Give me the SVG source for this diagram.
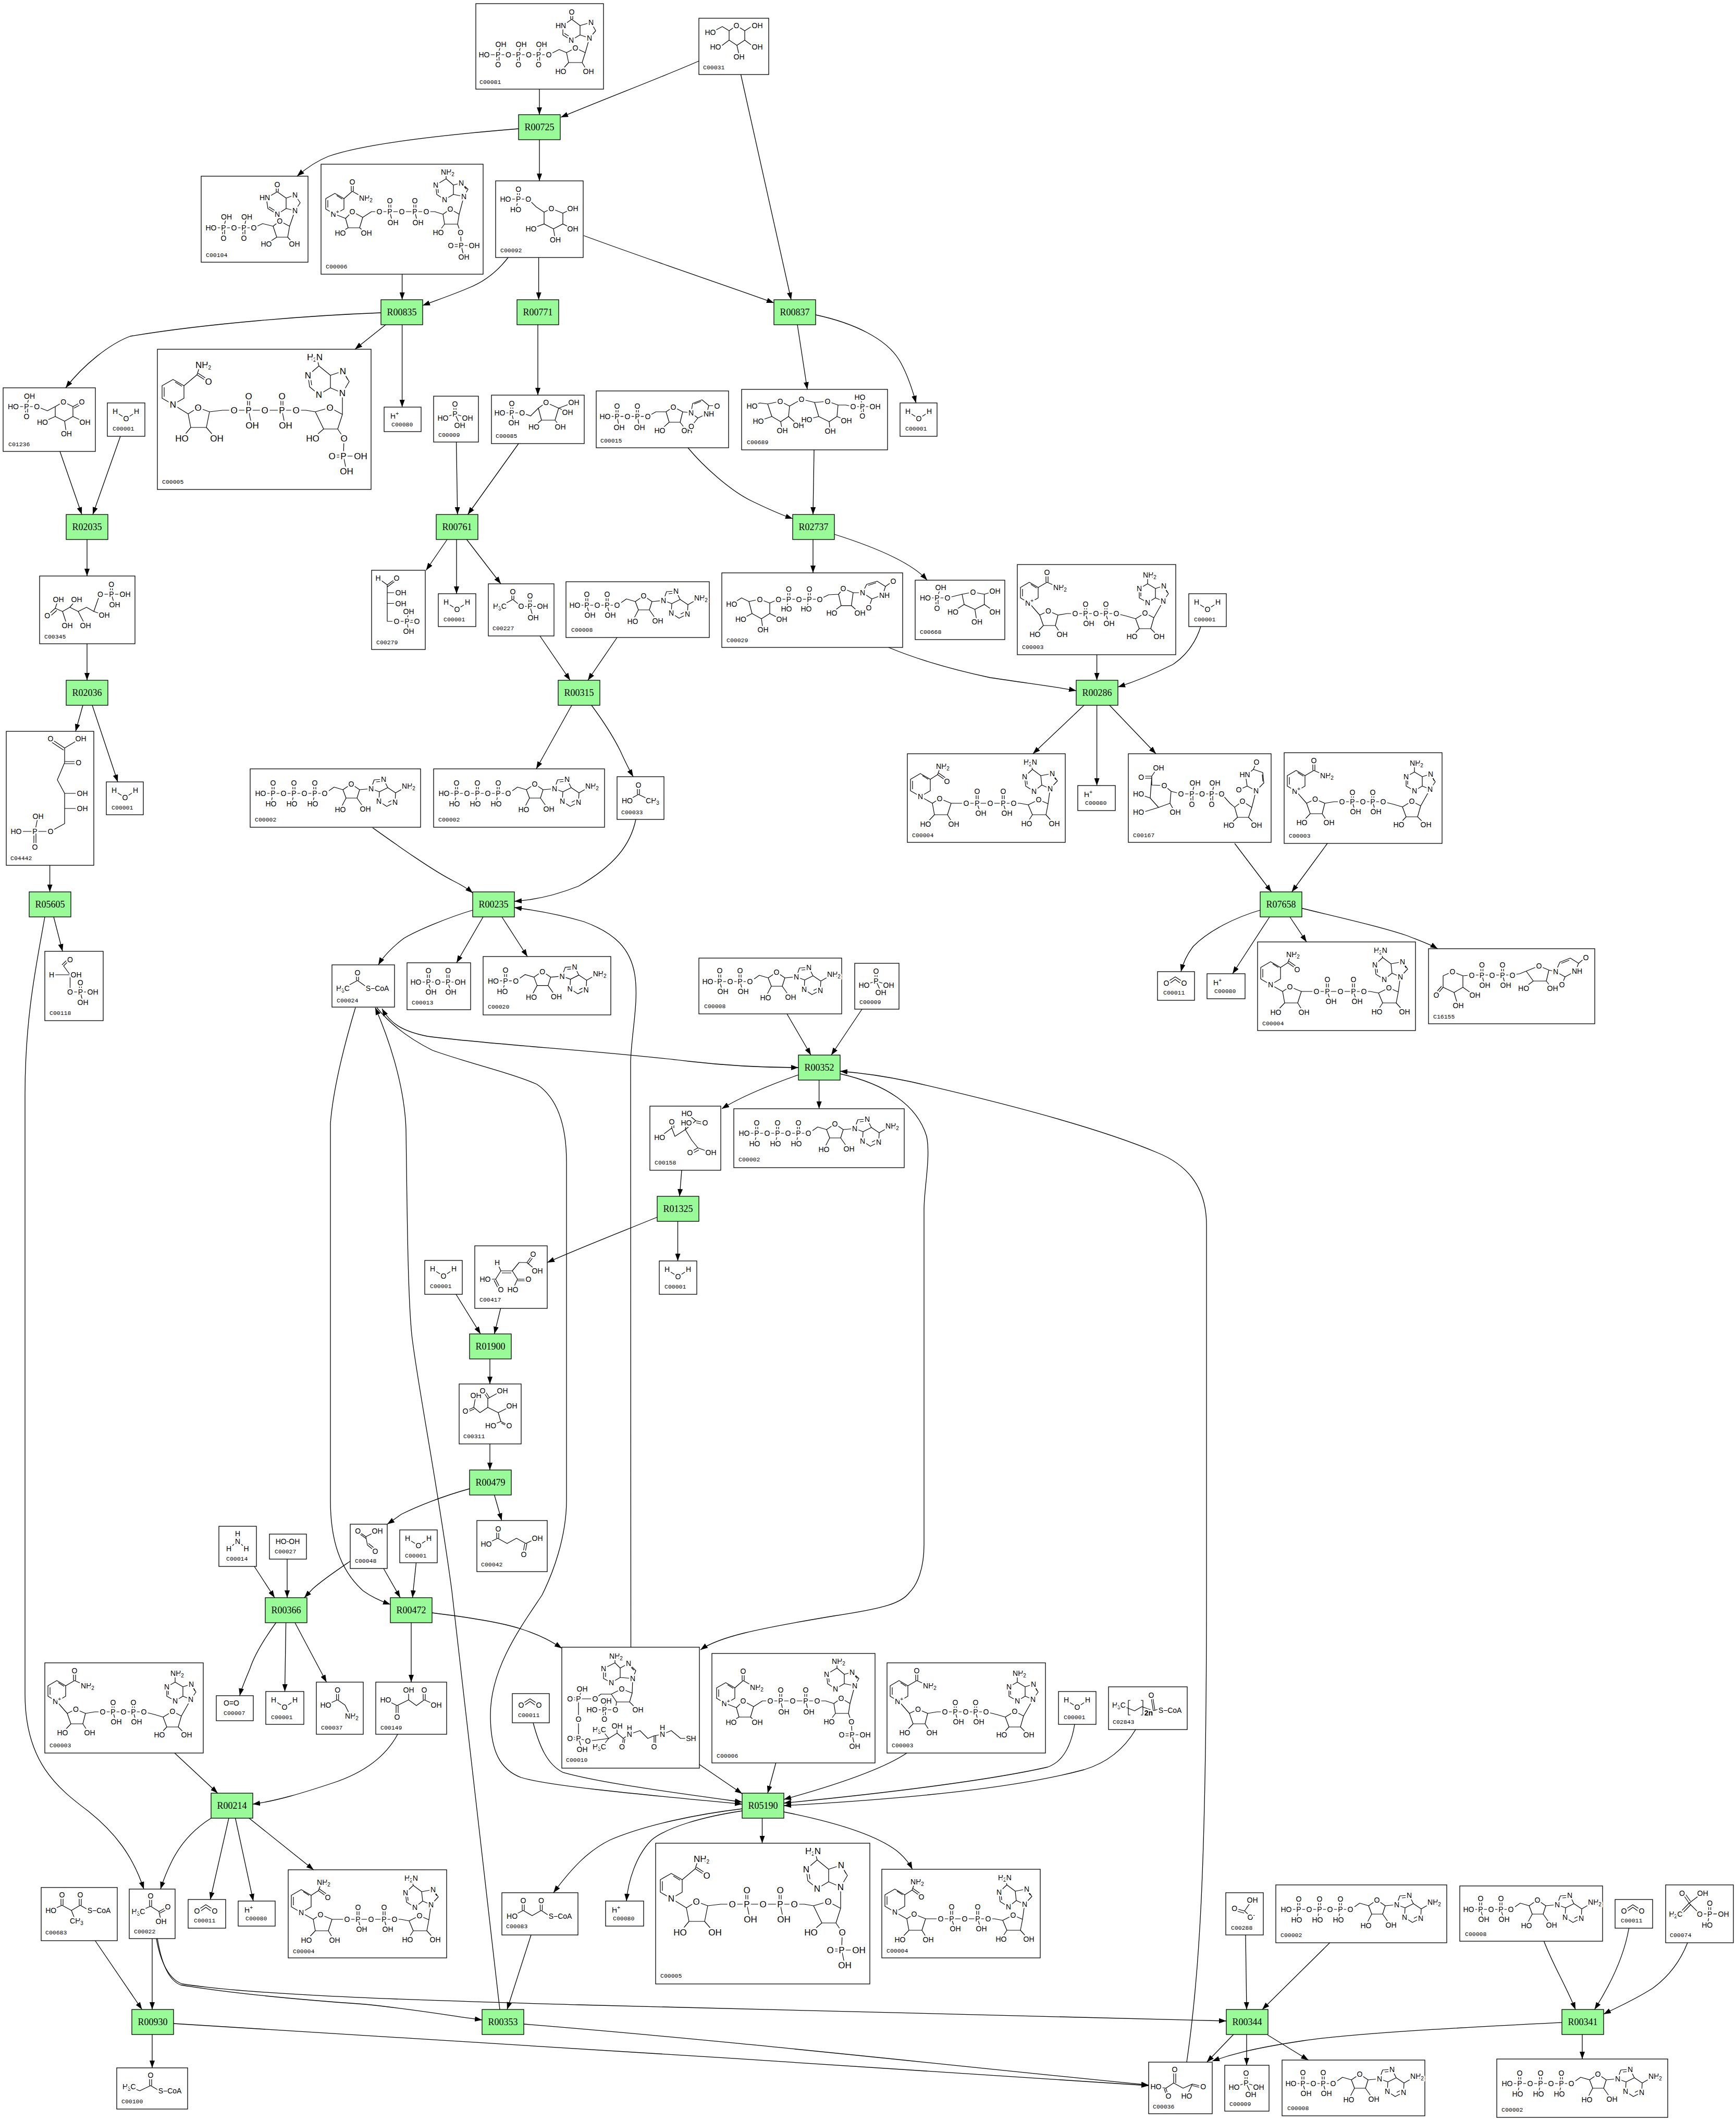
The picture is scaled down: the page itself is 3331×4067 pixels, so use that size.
<svg xmlns="http://www.w3.org/2000/svg" width="3331" height="4067" viewBox="0 0 3331 4067">
<style>
.r{fill:#98fb98;stroke:#000;stroke-width:1.3}
.c{fill:#fff;stroke:#000;stroke-width:1.3}
.rt{font-family:"Liberation Serif","Times New Roman",serif;font-size:18px;text-anchor:middle;dominant-baseline:central;fill:#000}
.lb{font-family:"Liberation Mono","Courier New",monospace;font-size:11.5px;fill:#000}
.a{font-family:"Liberation Sans",Arial,sans-serif;font-size:14px;text-anchor:middle;dominant-baseline:central;fill:#000;stroke:#fff;stroke-width:6px;paint-order:stroke;stroke-linejoin:round}
.a2{font-family:"Liberation Sans",Arial,sans-serif;font-size:17px;text-anchor:middle;dominant-baseline:central;fill:#000;stroke:#fff;stroke-width:7px;paint-order:stroke;stroke-linejoin:round}
.s{font-size:10px}
.b{fill:none;stroke:#000;stroke-width:1.2;stroke-linejoin:round}
.e{fill:none;stroke:#000;stroke-width:1.3}
.ar{marker-end:url(#ah)}
</style>
<defs>
<marker id="ah" viewBox="0 0 14 10" refX="14" refY="5" markerWidth="14" markerHeight="10" markerUnits="userSpaceOnUse" orient="auto"><path d="M0,0 L14,5 L0,10 Z" fill="#000"/></marker>
<marker id="as" viewBox="0 0 14 10" refX="14" refY="5" markerWidth="14" markerHeight="10" markerUnits="userSpaceOnUse" orient="auto-start-reverse"><path d="M0,0 L14,5 L0,10 Z" fill="#000"/></marker>
<g id="s-h2o"><path class="b" d="M15,17 L36,30 L56,17"/><text class="a" x="15" y="16">H</text><text class="a" x="36" y="30">O</text><text class="a" x="56" y="16">H</text></g>
<g id="s-hp"><text class="a" x="20" y="17">H<tspan class="s" dy="-5">+</tspan></text></g>
<g id="s-pi"><path class="b" d="M39,16V34 M43,16V34 M41,34 L18,42 M41,34 L65,42 M41,34 L50,54"/><text class="a" x="41" y="15">O</text><text class="a" x="41" y="34">P</text><text class="a" x="18" y="42">HO</text><text class="a" x="65" y="42">OH</text><text class="a" x="50" y="56">OH</text></g>
<g id="s-co2"><path class="b" d="M17,21 L34,10 L51,21 M20,25 L34,15 L48,25"/><text class="a" x="17" y="22">O</text><text class="a" x="51" y="22">O</text></g>
<g id="s-aden"><path class="b" d="M8,-5 L18,-12 L35,-7 L51,-18 L67,-7 L62,9 L41,9 L35,-7 M41,9 L30,30 M62,9 L76,29 M67,-7 L89,-9 L95,-26 L113,-27 L121,-11 L105,-3 L89,-9 M105,-3 L104,15 L119,25 L135,17 L136,-1 L121,-11 M136,-1 L157,-13 M99,-22 L110,-23 M122,17 L132,12"/><text class="a" x="51" y="-18">O</text><text class="a" x="30" y="31">HO</text><text class="a" x="78" y="30">OH</text><text class="a" x="89" y="-9">N</text><text class="a" x="113" y="-27">N</text><text class="a" x="104" y="15">N</text><text class="a" x="135" y="17">N</text><text class="a" x="161" y="-14">NH<tspan class="s" dy="4">2</tspan></text></g>
<g id="s-atp"><path class="b" d="M20,47 H143 M42,27V47 M46,27V47 M82,27V47 M86,27V47 M122,27V47 M126,27V47 M44,47 L40,66 M84,47 L80,66 M124,47 L120,66"/><text class="a" x="20" y="47">HO</text><text class="a" x="44" y="47">P</text><text class="a" x="64" y="47">O</text><text class="a" x="84" y="47">P</text><text class="a" x="104" y="47">O</text><text class="a" x="124" y="47">P</text><text class="a" x="143" y="47">O</text><text class="a" x="44" y="27">O</text><text class="a" x="84" y="27">O</text><text class="a" x="124" y="27">O</text><text class="a" x="40" y="67">HO</text><text class="a" x="80" y="67">HO</text><text class="a" x="120" y="67">HO</text><use href="#s-aden" x="143" y="47"/></g>
<g id="s-adp"><path class="b" d="M17,45 H98 M38,24V45 M42,24V45 M77,24V45 M81,24V45 M40,45 L45,63 M79,45 L84,63"/><text class="a" x="17" y="45">HO</text><text class="a" x="40" y="45">P</text><text class="a" x="60" y="45">O</text><text class="a" x="79" y="45">P</text><text class="a" x="98" y="45">O</text><text class="a" x="40" y="24">O</text><text class="a" x="79" y="24">O</text><text class="a" x="46" y="64">OH</text><text class="a" x="85" y="64">OH</text><use href="#s-aden" x="98" y="45"/></g>
<g id="s-nad"><path class="b" d="M23,34 L40,44 L40,64 L23,74 L6,64 L6,44 Z M10,47 V61 M26,38 L37,45 M40,44 L57,34 M55,34 V15 M59,34 V15 M57,34 L80,44 M23,74 L43,97 M43,97 L59.5,89 L78,97 L73,117 L50,117 Z M50,117 L34,134 M73,117 L84,134 M78,97 L96,94 H190 L210,99 L227,104 M129,76V94 M133,76V94 M168,76V94 M172,76V94 M131,94 L136,113 M170,94 L175,113 M227,104 L245,93 L262,102 L256,123 L234,123 Z M234,123 L220,138 M256,123 L271,138 M262,102 L280,70 M250,37 L234,46 L234,64 L250,73 L265,64 L265,46 Z M265,46 L281,41 L290,56 L280,70 L265,64 M250,37 L250,20 M237,49 L237,61 M283,45 L288,54"/><text class="a" x="23" y="74">N<tspan class="s" dy="-5">+</tspan></text><text class="a" x="57" y="15">O</text><text class="a" x="82" y="44">NH<tspan class="s" dy="4">2</tspan></text><text class="a" x="59.5" y="89">O</text><text class="a" x="34" y="134">HO</text><text class="a" x="86" y="134">OH</text><text class="a" x="111" y="94">O</text><text class="a" x="131" y="94">P</text><text class="a" x="131" y="76">O</text><text class="a" x="137" y="113">OH</text><text class="a" x="151" y="94">O</text><text class="a" x="170" y="94">P</text><text class="a" x="170" y="76">O</text><text class="a" x="176" y="113">OH</text><text class="a" x="190" y="94">O</text><text class="a" x="245" y="93">O</text><text class="a" x="220" y="138">HO</text><text class="a" x="272" y="138">OH</text><text class="a" x="234" y="46">N</text><text class="a" x="250" y="73">N</text><text class="a" x="281" y="41">N</text><text class="a" x="280" y="70">N</text><text class="a" x="254" y="20">NH<tspan class="s" dy="4">2</tspan></text></g>
<g id="s-nadh"><path class="b" d="M25,38 L44,49 L44,71 L25,82 L6,71 L6,49 Z M10,52 V68 M29,42 L40,49 M44,49 L58,40 L64,24 M58,40 L75,52 M60,37 L77,49 M25,82 L48,95 M48,95 L62,86 L84,95 L77,117 L52,117 Z M52,117 L35,135 M77,117 L88,135 M84,95 H216 L232,98 M132,72V95 M136,72V95 M182,72V95 M186,72V95 M134,95 L140,114 M184,95 L190,114 M232,98 L252,88 L270,96 L266,117 L240,117 Z M240,117 L229,134 M266,117 L281,134 M270,96 L274,67 M240,30 L225,44 L227,62 L243,72 L258,60 L256,42 Z M256,42 L278,38 L288,52 L274,67 L258,60 M240,30 L236,16 M229,47 L230,59 M280,42 L285,50"/><text class="a" x="25" y="82">N</text><text class="a" x="68" y="24">NH<tspan class="s" dy="4">2</tspan></text><text class="a" x="76" y="53">O</text><text class="a" x="62" y="86">O</text><text class="a" x="35" y="135">HO</text><text class="a" x="89" y="135">OH</text><text class="a" x="113" y="95">O</text><text class="a" x="134" y="95">P</text><text class="a" x="134" y="72">O</text><text class="a" x="141" y="114">OH</text><text class="a" x="159" y="95">O</text><text class="a" x="184" y="95">P</text><text class="a" x="184" y="72">O</text><text class="a" x="191" y="114">OH</text><text class="a" x="204" y="95">O</text><text class="a" x="252" y="88">O</text><text class="a" x="229" y="134">HO</text><text class="a" x="282" y="134">OH</text><text class="a" x="225" y="44">N</text><text class="a" x="243" y="72">N</text><text class="a" x="278" y="38">N</text><text class="a" x="274" y="67">N</text><text class="a" x="236" y="16">H<tspan class="s" dy="4">2</tspan><tspan dy="-4">N</tspan></text></g>
<g id="s-nadp"><path class="b" d="M26.5,56 L44,66 L44,86 L26.5,96 L9,86 L9,66 Z M13,69 V83 M30,60 L41,67 M44,66 L60,52 L83,65 M58,52 V34 M62,52 V34 M26.5,96 L47,104 M47,104 L60,91 L80,102 L74,122 L52,122 Z M52,122 L37,131 M74,122 L85,131 M80,102 L97,91 H218 L234,96 M130,70V91 M134,70V91 M178,70V91 M182,70V91 M132,91 L137,112 M180,91 L185,112 M234,96 L248,86 L265,96 L262,115 L237,115 Z M237,115 L225,131 M262,115 L267.6,131 L269,156 L294,156 M269,156 L274,178 M249,154 H269 M249,158 H269 M265,96 L274,62 M240,28 L220,40 L222,58 L237,68 L254,58 L254,40 Z M254,40 L269,36 L282,48 L274,62 L254,58 M240,28 L240,15 M224,43 L225,55 M272,40 L279,48"/><text class="a" x="26.5" y="96">N<tspan class="s" dy="-5">+</tspan></text><text class="a" x="60" y="34">O</text><text class="a" x="86" y="65">NH<tspan class="s" dy="4">2</tspan></text><text class="a" x="60" y="91">O</text><text class="a" x="37" y="132">HO</text><text class="a" x="87" y="132">OH</text><text class="a" x="112" y="91">O</text><text class="a" x="132" y="91">P</text><text class="a" x="132" y="70">O</text><text class="a" x="138" y="112">OH</text><text class="a" x="155" y="91">O</text><text class="a" x="180" y="91">P</text><text class="a" x="180" y="70">O</text><text class="a" x="186" y="112">OH</text><text class="a" x="202" y="91">O</text><text class="a" x="248" y="86">O</text><text class="a" x="225" y="131">HO</text><text class="a" x="267.6" y="131">O</text><text class="a" x="249" y="156">O</text><text class="a" x="269" y="156">P</text><text class="a" x="294" y="156">OH</text><text class="a" x="274" y="178">OH</text><text class="a" x="220" y="40">N</text><text class="a" x="237" y="68">N</text><text class="a" x="269" y="36">N</text><text class="a" x="274" y="62">N</text><text class="a" x="243" y="15">NH<tspan class="s" dy="4">2</tspan></text></g>
<g id="s-nadph"><path class="b" d="M30,58 L51,70 L51,94 L30,106 L9,94 L9,70 Z M13,73 V91 M34,63 L47,71 M51,70 L76,49 L82,30 M76,49 L96,62 M78,46 L98,59 M30,106 L59,124 M59,124 L78,112 L100,120 L94,150 L64,150 Z M64,150 L47,171 M94,150 L112,171 M100,120 L125,117 H285 L303,120 M173,90V117 M177,90V117 M237,90V117 M241,90V117 M175,117 L181,146 M239,117 L245,146 M303,120 L331,112 L355,125 L346,153 L319,153 Z M319,153 L298,171 M346,153 L358,171 L357,205 L390,205 M357,205 L363,234 M335,203 H357 M335,207 H357 M355,125 L355,84 M310,32 L289,50 L292,72 L310,87 L332,74 L332,50 Z M332,50 L356,42 L368,62 L355,84 L332,74 M310,32 L305,15 M294,54 L296,69 M359,47 L365,58"/><text class="a2" x="30" y="106">N</text><text class="a2" x="88" y="30">NH<tspan class="s" dy="5">2</tspan></text><text class="a2" x="98" y="62">O</text><text class="a2" x="78" y="112">O</text><text class="a2" x="47" y="171">HO</text><text class="a2" x="114" y="171">OH</text><text class="a2" x="147" y="117">O</text><text class="a2" x="175" y="117">P</text><text class="a2" x="175" y="90">O</text><text class="a2" x="182" y="146">OH</text><text class="a2" x="206" y="117">O</text><text class="a2" x="239" y="117">P</text><text class="a2" x="239" y="90">O</text><text class="a2" x="246" y="146">OH</text><text class="a2" x="266" y="117">O</text><text class="a2" x="331" y="112">O</text><text class="a2" x="298" y="171">HO</text><text class="a2" x="358" y="171">O</text><text class="a2" x="335" y="205">O</text><text class="a2" x="357" y="205">P</text><text class="a2" x="390" y="205">OH</text><text class="a2" x="363" y="234">OH</text><text class="a2" x="289" y="50">N</text><text class="a2" x="310" y="87">N</text><text class="a2" x="356" y="42">N</text><text class="a2" x="355" y="84">N</text><text class="a2" x="302" y="15">H<tspan class="s" dy="5">2</tspan><tspan dy="-5">N</tspan></text></g>
</defs>
<rect width="3331" height="4067" fill="#fff"/>

<g id="reactions">
<g id="R00725"><rect class="r" x="995" y="220" width="80" height="48"/><text class="rt" x="1035" y="244">R00725</text></g>
<g id="R00835"><rect class="r" x="731" y="575" width="80" height="48"/><text class="rt" x="771" y="599">R00835</text></g>
<g id="R00771"><rect class="r" x="992" y="575" width="80" height="48"/><text class="rt" x="1032" y="599">R00771</text></g>
<g id="R00837"><rect class="r" x="1485" y="575" width="80" height="48"/><text class="rt" x="1525" y="599">R00837</text></g>
<g id="R02035"><rect class="r" x="127" y="987" width="80" height="48"/><text class="rt" x="167" y="1011">R02035</text></g>
<g id="R00761"><rect class="r" x="837" y="987" width="80" height="48"/><text class="rt" x="877" y="1011">R00761</text></g>
<g id="R02737"><rect class="r" x="1521" y="987" width="80" height="48"/><text class="rt" x="1561" y="1011">R02737</text></g>
<g id="R02036"><rect class="r" x="127" y="1305" width="80" height="48"/><text class="rt" x="167" y="1329">R02036</text></g>
<g id="R00315"><rect class="r" x="1071" y="1305" width="80" height="48"/><text class="rt" x="1111" y="1329">R00315</text></g>
<g id="R00286"><rect class="r" x="2065" y="1305" width="80" height="48"/><text class="rt" x="2105" y="1329">R00286</text></g>
<g id="R05605"><rect class="r" x="56" y="1711" width="80" height="48"/><text class="rt" x="96" y="1735">R05605</text></g>
<g id="R00235"><rect class="r" x="907" y="1711" width="80" height="48"/><text class="rt" x="947" y="1735">R00235</text></g>
<g id="R07658"><rect class="r" x="2418" y="1711" width="80" height="48"/><text class="rt" x="2458" y="1735">R07658</text></g>
<g id="R00352"><rect class="r" x="1532" y="2024" width="80" height="48"/><text class="rt" x="1572" y="2048">R00352</text></g>
<g id="R01325"><rect class="r" x="1261" y="2295" width="80" height="48"/><text class="rt" x="1301" y="2319">R01325</text></g>
<g id="R01900"><rect class="r" x="901" y="2559" width="80" height="48"/><text class="rt" x="941" y="2583">R01900</text></g>
<g id="R00479"><rect class="r" x="901" y="2820" width="80" height="48"/><text class="rt" x="941" y="2844">R00479</text></g>
<g id="R00366"><rect class="r" x="509" y="3065" width="80" height="48"/><text class="rt" x="549" y="3089">R00366</text></g>
<g id="R00472"><rect class="r" x="749" y="3065" width="80" height="48"/><text class="rt" x="789" y="3089">R00472</text></g>
<g id="R00214"><rect class="r" x="405" y="3440" width="80" height="48"/><text class="rt" x="445" y="3464">R00214</text></g>
<g id="R05190"><rect class="r" x="1424" y="3440" width="80" height="48"/><text class="rt" x="1464" y="3464">R05190</text></g>
<g id="R00930"><rect class="r" x="253" y="3855" width="80" height="48"/><text class="rt" x="293" y="3879">R00930</text></g>
<g id="R00353"><rect class="r" x="925" y="3855" width="80" height="48"/><text class="rt" x="965" y="3879">R00353</text></g>
<g id="R00344"><rect class="r" x="2353" y="3855" width="80" height="48"/><text class="rt" x="2393" y="3879">R00344</text></g>
<g id="R00341"><rect class="r" x="2997" y="3855" width="80" height="48"/><text class="rt" x="3037" y="3879">R00341</text></g>
</g>

<g id="compounds">
<g id="n-C00081" transform="translate(913,7)"><rect class="c" width="245" height="164"/><path class="b" d="M16,98 H140 L160,88 L174,94 M40.6,98V117 M44.6,98V117 M79.6,98V117 M83.6,98V117 M118.5,98V117 M122.5,98V117 M42.6,98 L48,78 M81.6,98 L87,78 M120.5,98 L125.6,78 M174,94 L191,85 L210,94 L204,113 L178,113 Z M178,113 L163,130 M204,113 L214,130 M210,94 L218,66 M184,30 L167,42 L167,60 L183,70 L200,60 L200,42 Z M200,42 L221,36 L230,52 L218,66 L200,60 M182,30V16 M186,30V16 M170,57 L181,64"/><text class="a" x="48" y="78">OH</text><text class="a" x="87" y="78">OH</text><text class="a" x="126" y="78">OH</text><text class="a" x="16" y="98">HO</text><text class="a" x="42.6" y="98">P</text><text class="a" x="62.5" y="98">O</text><text class="a" x="81.6" y="98">P</text><text class="a" x="101.4" y="98">O</text><text class="a" x="120.5" y="98">P</text><text class="a" x="140" y="98">O</text><text class="a" x="42.6" y="117">O</text><text class="a" x="81.6" y="117">O</text><text class="a" x="120.5" y="117">O</text><text class="a" x="191" y="85">O</text><text class="a" x="163" y="130">HO</text><text class="a" x="216" y="130">OH</text><text class="a" x="163" y="42">HN</text><text class="a" x="184" y="16">O</text><text class="a" x="183" y="70">N</text><text class="a" x="221" y="36">N</text><text class="a" x="218" y="66">N</text><text class="lb" x="7" y="154">C00081</text></g>
<g id="n-C00031" transform="translate(1341,35)"><rect class="c" width="134" height="108"/><path class="b" d="M58,24 L72,14 L88,24 L88,42 L73,52 L58,42 Z M58,24 L45,16 L24,27 M88,24 L104,14 M88,42 L104,54 M73,52 L77,70 M58,42 L42,54"/><text class="a" x="22" y="27">HO</text><text class="a" x="72" y="14">O</text><text class="a" x="112" y="14">OH</text><text class="a" x="32" y="55">HO</text><text class="a" x="112" y="55">OH</text><text class="a" x="77" y="74">OH</text><text class="lb" x="8" y="98">C00031</text></g>
<g id="n-C00104" transform="translate(386,338)"><rect class="c" width="205" height="165"/><path class="b" d="M19,99 H101 L118,91 L138,96 M41,99V119 M45,99V119 M80,99V119 M84,99V119 M43,99 L48.6,78 M82,99 L87.6,78 M138,96 L150.6,86 L169.7,96 L166,117 L145,117 Z M145,117 L125,130 M166,117 L178,130 M169.7,96 L180,66 M146,30 L125,42 L128,62 L146,73 L163,62 L163,42 Z M163,42 L180,36 L190,51 L180,66 L163,62 M144,30V16 M148,30V16 M130,59 L143,67"/><text class="a" x="48.6" y="78">OH</text><text class="a" x="87.6" y="78">OH</text><text class="a" x="19" y="99">HO</text><text class="a" x="43" y="99">P</text><text class="a" x="63" y="99">O</text><text class="a" x="82" y="99">P</text><text class="a" x="101" y="99">O</text><text class="a" x="43" y="119">O</text><text class="a" x="82" y="119">O</text><text class="a" x="150.6" y="86">O</text><text class="a" x="125" y="130">HO</text><text class="a" x="179" y="130">OH</text><text class="a" x="146" y="16">O</text><text class="a" x="122" y="41">HN</text><text class="a" x="146" y="73">N</text><text class="a" x="180" y="36">N</text><text class="a" x="180" y="66">N</text><text class="lb" x="9" y="155">C00104</text></g>
<g id="n-C00006-a" transform="translate(616,315)"><rect class="c" width="311" height="211"/><use href="#s-nadp"/><text class="lb" x="9" y="200">C00006</text></g>
<g id="n-C00092" transform="translate(951,347)"><rect class="c" width="168" height="147"/><path class="b" d="M19,35 H62.7 L78,50 L93,60 M41.6,15.6V35 M45.6,15.6V35 M43.6,35 L38.6,55 M93,60 L107,53 L129,62 L129,82.6 L111,92 L93,82.6 Z M129,62 L147.7,53 M129,82.6 L147.7,92 M93,82.6 L68,92 M111,92 L114.5,113"/><text class="a" x="43.6" y="15.6">O</text><text class="a" x="19" y="35">HO</text><text class="a" x="43.6" y="35">P</text><text class="a" x="62.7" y="35">O</text><text class="a" x="38.6" y="55">HO</text><text class="a" x="107" y="53">O</text><text class="a" x="148" y="53">OH</text><text class="a" x="148" y="92">OH</text><text class="a" x="68" y="92">HO</text><text class="a" x="114.5" y="113">OH</text><text class="lb" x="9" y="137">C00092</text></g>
<g id="n-C01236" transform="translate(6,744)"><rect class="c" width="177" height="122"/><path class="b" d="M19.5,36 H64.8 L85,44 L100,36 M45,36 L50.6,15.6 M43,36V55 M47,36V55 M100,36 L115.7,27 L134,36 L134,55 L118,64 L100,55 Z M134,36 L151,27 M136,39 L153,30 M134,55 L157,66 M100,55 L75.4,66 M118,64 L121.4,88"/><text class="a" x="50.6" y="15.6">OH</text><text class="a" x="19.5" y="36">HO</text><text class="a" x="45" y="36">P</text><text class="a" x="64.8" y="36">O</text><text class="a" x="45" y="55">O</text><text class="a" x="115.7" y="27">O</text><text class="a" x="151" y="27">O</text><text class="a" x="75.4" y="66">HO</text><text class="a" x="157" y="66">OH</text><text class="a" x="121.4" y="88">OH</text><text class="lb" x="10" y="112">C01236</text></g>
<g id="n-C00001-a" transform="translate(206,773)"><rect class="c" width="72" height="64"/><use href="#s-h2o"/><text class="lb" x="10" y="53">C00001</text></g>
<g id="n-C00005-a" transform="translate(302,670)"><rect class="c" width="410" height="269"/><use href="#s-nadph"/><text class="lb" x="9" y="258">C00005</text></g>
<g id="n-C00080-a" transform="translate(737,781)"><rect class="c" width="71" height="47"/><use href="#s-hp"/><text class="lb" x="14" y="37">C00080</text></g>
<g id="n-C00009-a" transform="translate(832,760)"><rect class="c" width="86" height="88"/><use href="#s-pi"/><text class="lb" x="9" y="78">C00009</text></g>
<g id="n-C00085" transform="translate(943,758)"><rect class="c" width="178" height="93"/><path class="b" d="M16,34 H58.7 L75,40 L90,25 M37,15.6V34 M41,15.6V34 M39,34 L43,53 M90,25 L104.7,14.3 L129,25 L122,48 L96,48 Z M129,25 L145,32 M129,25 L157,14.3 M96,48 L81.4,60 M122,48 L131.6,60"/><text class="a" x="39" y="15.6">O</text><text class="a" x="16" y="34">HO</text><text class="a" x="39" y="34">P</text><text class="a" x="58.7" y="34">O</text><text class="a" x="43" y="53">OH</text><text class="a" x="104.7" y="14.3">O</text><text class="a" x="158" y="14.3">OH</text><text class="a" x="146" y="33">OH</text><text class="a" x="81.4" y="61">HO</text><text class="a" x="132" y="61">OH</text><text class="lb" x="8" y="82">C00085</text></g>
<g id="n-C00015" transform="translate(1144,750)"><rect class="c" width="254" height="109"/><path class="b" d="M17,48.8 H99 L114.7,40 L134,40 M38,29V48.8 M42,29V48.8 M77,29V48.8 M81,29V48.8 M40,48.8 L44,69.6 M79,48.8 L83,69.6 M134,40 L148,30.6 L166,40 L161,60 L140,60 Z M140,60 L122,76 M161,60 L173,76 M166,40 L182,42 M182,42 L185,24 L203,17 L216,28 L212,44 L195,52 Z M188,25 L201,20 M216,28 L230,28.6 M195,52 L182.5,68"/><text class="a" x="40" y="29">O</text><text class="a" x="79" y="29">O</text><text class="a" x="17" y="48.8">HO</text><text class="a" x="40" y="48.8">P</text><text class="a" x="60" y="48.8">O</text><text class="a" x="79" y="48.8">P</text><text class="a" x="99" y="48.8">O</text><text class="a" x="44" y="70">OH</text><text class="a" x="83" y="70">OH</text><text class="a" x="148" y="30.6">O</text><text class="a" x="122" y="76">HO</text><text class="a" x="174" y="76">OH</text><text class="a" x="182" y="42">N</text><text class="a" x="216" y="44">NH</text><text class="a" x="232" y="28.6">O</text><text class="a" x="182.5" y="68">O</text><text class="lb" x="8" y="99">C00015</text></g>
<g id="n-C00689" transform="translate(1423,747)"><rect class="c" width="280" height="116"/><path class="b" d="M50,28 L74,23 L92,32 L90,52 L75,62 L58,52 Z M50,28 L35,26 L20,32 M92,32 L115,19 L140,25 M140,25 L165,23 L185,30 L183,52 L168,62 L148,52 Z M140,25 L148,52 M185,30 L200,30 L214,33 H255 M231.7,33 L228,15 M229.7,33V51 M233.7,33V51 M58,52 L32,61 M75,62 L78,79 M90,52 L109,69 M148,52 L125,58 M183,52 L200.7,59.5 M168,62 L169.7,80"/><text class="a" x="20" y="32">HO</text><text class="a" x="74" y="23">O</text><text class="a" x="115" y="19">O</text><text class="a" x="165" y="23">O</text><text class="a" x="32" y="61">HO</text><text class="a" x="78" y="79">OH</text><text class="a" x="109" y="69">OH</text><text class="a" x="125" y="58">HO</text><text class="a" x="201" y="59.5">OH</text><text class="a" x="170" y="80">OH</text><text class="a" x="227" y="15">HO</text><text class="a" x="214" y="33">O</text><text class="a" x="231.7" y="33">P</text><text class="a" x="256" y="33">OH</text><text class="a" x="231.7" y="51">O</text><text class="lb" x="10" y="105">C00689</text></g>
<g id="n-C00001-b" transform="translate(1727,773)"><rect class="c" width="71" height="64"/><use href="#s-h2o"/><text class="lb" x="10" y="53">C00001</text></g>
<g id="n-C00345" transform="translate(76,1105)"><rect class="c" width="183" height="130"/><path class="b" d="M14.6,75.8 L30,62 M17,80 L33,66 M30,62 L35.8,44.7 M30,62 L44,68 L58,60 L74,68 L90,60 L104,68 L112,45 L116.5,35 H163 M135.8,15.6V35 M139.8,15.6V35 M137.8,35 L143.5,54.4 M44,68 L52.8,95 M58,60 L71,44.7 M74,68 L88,95 M104,68 L123.6,75"/><text class="a" x="137.8" y="15.6">O</text><text class="a" x="116.5" y="35">O</text><text class="a" x="137.8" y="35">P</text><text class="a" x="164" y="35">OH</text><text class="a" x="144" y="55">OH</text><text class="a" x="36" y="44.7">OH</text><text class="a" x="71" y="44.7">OH</text><text class="a" x="14.6" y="75.8">O</text><text class="a" x="53" y="95">OH</text><text class="a" x="88" y="95">OH</text><text class="a" x="124" y="75">OH</text><text class="lb" x="9" y="120">C00345</text></g>
<g id="n-C04442" transform="translate(12,1403)"><rect class="c" width="168" height="257"/><path class="b" d="M112,32 L85,14 M110,36 L83,18 M112,32 L142,14 M112,32 V60 M112,58 H138.8 M112,62 H138.8 M112,60 L98,93 L112,119 L112,177 L85,192 H19 M112,119 H145 M112,148 H145 M55,192 L61,163 M53,192V222 M57,192V222"/><text class="a" x="85" y="14">O</text><text class="a" x="143" y="14">OH</text><text class="a" x="138.8" y="60">O</text><text class="a" x="146" y="119">OH</text><text class="a" x="146" y="148">OH</text><text class="a" x="61" y="163">OH</text><text class="a" x="19" y="192">HO</text><text class="a" x="55" y="192">P</text><text class="a" x="85" y="192">O</text><text class="a" x="55" y="222">O</text><text class="lb" x="8" y="247">C04442</text></g>
<g id="n-C00001-c" transform="translate(204,1500)"><rect class="c" width="71" height="63"/><use href="#s-h2o"/><text class="lb" x="10" y="53">C00001</text></g>
<g id="n-C00118" transform="translate(86,1825)"><rect class="c" width="112" height="133"/><path class="b" d="M48.5,15.6 L36,28 L48.5,45 M46,13 L33,26 M48.5,45 L13,45 M48.5,45 L58,45 M48.5,45 V78 H91 M66.3,60V78 M70.3,60V78 M68.3,78 L73,98"/><text class="a" x="48.5" y="15.6">O</text><text class="a" x="13" y="45">H</text><text class="a" x="60" y="45">OH</text><text class="a" x="48.5" y="78">O</text><text class="a" x="68.3" y="78">P</text><text class="a" x="92" y="78">OH</text><text class="a" x="68.3" y="60">O</text><text class="a" x="73" y="98">OH</text><text class="lb" x="9" y="122">C00118</text></g>
<g id="n-C00279" transform="translate(713,1094)"><rect class="c" width="103" height="152"/><path class="b" d="M12.6,15 L30,28 L48,15 M30,32 L46,20 M30,28 V98 M30,43 H55 M30,63.5 H55 M30,98 H68 M68,98 L71,79 M68,96 H87 M68,100 H87 M68,98 L71,117"/><text class="a" x="12.6" y="15">H</text><text class="a" x="48" y="15">O</text><text class="a" x="56" y="43">OH</text><text class="a" x="56" y="63.5">OH</text><text class="a" x="71" y="79">OH</text><text class="a" x="48" y="98">O</text><text class="a" x="68" y="98">P</text><text class="a" x="87" y="98">O</text><text class="a" x="71" y="117">OH</text><text class="lb" x="9" y="142">C00279</text></g>
<g id="n-C00001-d" transform="translate(841,1139)"><rect class="c" width="72" height="63"/><use href="#s-h2o"/><text class="lb" x="10" y="53">C00001</text></g>
<g id="n-C00227" transform="translate(937,1120)"><rect class="c" width="126" height="100"/><path class="b" d="M22,43.4 L47,30 L63,43.4 H103.6 M45,15V30 M49,15V30 M78,22.7V43.4 M82,22.7V43.4 M80,43.4 L86,65"/><text class="a" x="47" y="15">O</text><text class="a" x="80" y="22.7">O</text><text class="a" x="22" y="43.4">H<tspan class="s" dy="4">3</tspan><tspan dy="-4">C</tspan></text><text class="a" x="63" y="43.4">O</text><text class="a" x="80" y="43.4">P</text><text class="a" x="104" y="43.4">OH</text><text class="a" x="86" y="65">OH</text><text class="lb" x="8" y="89">C00227</text></g>
<g id="n-C00008-a" transform="translate(1086,1116)"><rect class="c" width="275" height="107"/><use href="#s-adp"/><text class="lb" x="10" y="96">C00008</text></g>
<g id="n-C00029" transform="translate(1385,1099)"><rect class="c" width="347" height="143"/><path class="b" d="M52,55 L73,50.5 L92,58 L92,78 L76,88 L58,78 Z M52,55 L38,48 L18.8,60 M92,58 L108.7,50.5 H188 L205,42 L224,41 M126.5,31V50.5 M130.5,31V50.5 M166,31V50.5 M170,31V50.5 M128.5,50.5 L124,69 M168,50.5 L162,69 M58,78 L36.5,89.4 M92,78 L114,89.4 M76,88 L79,109 M224,41 L233,30 L252,38 L248.6,62.8 L229,62.8 Z M229,62.8 L211,76.5 M248.6,62.8 L264,76.5 M252,38 L270,38 M270,38 L278,22 L298,16 L314,26 L309,42 L288,50 Z M281,24 L296,19 M314,26 L328,16 M288,50 L282,67"/><text class="a" x="18.8" y="60">HO</text><text class="a" x="73" y="50.5">O</text><text class="a" x="36.5" y="89.4">HO</text><text class="a" x="115" y="89.4">OH</text><text class="a" x="79" y="109">OH</text><text class="a" x="108.7" y="50.5">O</text><text class="a" x="128.5" y="50.5">P</text><text class="a" x="148" y="50.5">O</text><text class="a" x="168" y="50.5">P</text><text class="a" x="188" y="50.5">O</text><text class="a" x="128.5" y="31">O</text><text class="a" x="168" y="31">O</text><text class="a" x="124" y="69">HO</text><text class="a" x="162" y="69">HO</text><text class="a" x="233" y="30">O</text><text class="a" x="211" y="76.5">HO</text><text class="a" x="265" y="76.5">OH</text><text class="a" x="270" y="38">N</text><text class="a" x="312" y="42.6">NH</text><text class="a" x="329" y="16">O</text><text class="a" x="282" y="67">O</text><text class="lb" x="9" y="133">C00029</text></g>
<g id="n-C00668" transform="translate(1756,1113)"><rect class="c" width="172" height="114"/><path class="b" d="M19.4,34 H62 L78,30 L90,27 M42,34 L49,14 M40,34V54 M44,34V54 M90,27 L111,23 L132.7,27 L132.7,46.6 L114.6,56 L94,46.6 Z M132.7,27 L152.5,21 M94,46.6 L72.5,60.6 M132.7,46.6 L152.5,60.6 M114.6,56 L118.5,80"/><text class="a" x="49" y="14">OH</text><text class="a" x="19.4" y="34">HO</text><text class="a" x="42" y="34">P</text><text class="a" x="62" y="34">O</text><text class="a" x="42" y="54">O</text><text class="a" x="111" y="23">O</text><text class="a" x="153" y="21">OH</text><text class="a" x="72.5" y="60.6">HO</text><text class="a" x="153" y="60.6">OH</text><text class="a" x="118.5" y="80">OH</text><text class="lb" x="9" y="103">C00668</text></g>
<g id="n-C00003-a" transform="translate(1952,1083)"><rect class="c" width="304" height="173"/><use href="#s-nad"/><text class="lb" x="9" y="162">C00003</text></g>
<g id="n-C00001-e" transform="translate(2281,1139)"><rect class="c" width="72" height="63"/><use href="#s-h2o"/><text class="lb" x="10" y="53">C00001</text></g>
<g id="n-C00002-a" transform="translate(480,1475)"><rect class="c" width="327" height="112"/><use href="#s-atp"/><text class="lb" x="9" y="101">C00002</text></g>
<g id="n-C00002-b" transform="translate(832,1475)"><rect class="c" width="328" height="112"/><use href="#s-atp"/><text class="lb" x="9" y="101">C00002</text></g>
<g id="n-C00033" transform="translate(1184,1490)"><rect class="c" width="90" height="82"/><path class="b" d="M19.4,46 L41,34 L66,46 M39,15V34 M43,15V34"/><text class="a" x="41" y="15.6">O</text><text class="a" x="19.4" y="46">HO</text><text class="a" x="68" y="46">CH<tspan class="s" dy="4">3</tspan></text><text class="lb" x="8" y="72">C00033</text></g>
<g id="n-C00004-a" transform="translate(1741,1446)"><rect class="c" width="303" height="170"/><use href="#s-nadh"/><text class="lb" x="9" y="160">C00004</text></g>
<g id="n-C00080-b" transform="translate(2068,1507)"><rect class="c" width="72" height="48"/><use href="#s-hp"/><text class="lb" x="14" y="37">C00080</text></g>
<g id="n-C00167" transform="translate(2165,1446)"><rect class="c" width="274" height="170"/><path class="b" d="M45,43 H24.6 M45,47 H24.6 M45,43 L56,27 M45,43 L45,60 L69,61 L82,72 L80,95 L58,103 L42,85 Z M42,85 L19.6,77 M58,103 L30,111.5 M80,95 L89,111.5 M82,72 L101,77 H179 L195,95 L204,102.6 M122,77 L127.6,56 M160,77 L165.6,56 M120,77V97 M124,77V97 M158,77V97 M162,77V97 M204,102.6 L219,91 L237,103 L230.7,122 L209.5,122 Z M209.5,122 L193,137 M230.7,122 L245,137 M237,103 L245,71 M245,71 L228,62 L225,42 L240,30 L258,36 L260,56 Z M257,40 L258,53 M228,62 L212,69.4 M240,30 L246,16"/><text class="a" x="58" y="27">OH</text><text class="a" x="24.6" y="45">O</text><text class="a" x="19.6" y="77">HO</text><text class="a" x="19.6" y="111.5">HO</text><text class="a" x="90" y="111.5">OH</text><text class="a" x="69" y="61">O</text><text class="a" x="101" y="77">O</text><text class="a" x="122" y="77">P</text><text class="a" x="141.4" y="77">O</text><text class="a" x="160" y="77">P</text><text class="a" x="179" y="77">O</text><text class="a" x="128" y="56">OH</text><text class="a" x="166" y="56">OH</text><text class="a" x="122" y="97">O</text><text class="a" x="160" y="97">O</text><text class="a" x="219" y="91">O</text><text class="a" x="193" y="137">HO</text><text class="a" x="246" y="137">OH</text><text class="a" x="245" y="71">N</text><text class="a" x="212" y="69.4">O</text><text class="a" x="223.6" y="40">HN</text><text class="a" x="246" y="16">O</text><text class="lb" x="9" y="160">C00167</text></g>
<g id="n-C00003-b" transform="translate(2464,1444)"><rect class="c" width="303" height="174"/><use href="#s-nad"/><text class="lb" x="9" y="163">C00003</text></g>
<g id="n-C00024" transform="translate(637,1851)"><rect class="c" width="120" height="81"/><path class="b" d="M21,45 L49,30 L70,45 M47,15V30 M51,15V30"/><text class="a" x="49" y="15">O</text><text class="a" x="21" y="45">H<tspan class="s" dy="4">3</tspan><tspan dy="-4">C</tspan></text><text class="a" x="87" y="45">S−CoA</text><text class="lb" x="9" y="72">C00024</text></g>
<g id="n-C00013" transform="translate(781,1847)"><rect class="c" width="122" height="90"/><path class="b" d="M17,37 H101 M39,15V37 M43,15V37 M76.6,15V37 M80.6,15V37 M41,37 L46,56 M78.6,37 L84,56"/><text class="a" x="41" y="15">O</text><text class="a" x="78.6" y="15">O</text><text class="a" x="17" y="37">HO</text><text class="a" x="41" y="37">P</text><text class="a" x="59" y="37">O</text><text class="a" x="78.6" y="37">P</text><text class="a" x="102" y="37">OH</text><text class="a" x="46" y="56">OH</text><text class="a" x="84" y="56">OH</text><text class="lb" x="9" y="80">C00013</text></g>
<g id="n-C00020" transform="translate(927,1835)"><rect class="c" width="245" height="112"/><path class="b" d="M19.5,46.6 H62.6 M41,26V46.6 M45,26V46.6 M43,46.6 L37,67"/><text class="a" x="43" y="26">O</text><text class="a" x="19.5" y="46.6">HO</text><text class="a" x="43" y="46.6">P</text><text class="a" x="62.6" y="46.6">O</text><text class="a" x="37" y="67">HO</text><use href="#s-aden" x="62.6" y="46.6"/><text class="lb" x="9" y="100">C00020</text></g>
<g id="n-C00011-a" transform="translate(2221,1864)"><rect class="c" width="71" height="55"/><use href="#s-co2"/><text class="lb" x="11" y="44">C00011</text></g>
<g id="n-C00080-c" transform="translate(2316,1868)"><rect class="c" width="73" height="48"/><use href="#s-hp"/><text class="lb" x="14" y="37">C00080</text></g>
<g id="n-C00004-b" transform="translate(2413,1807)"><rect class="c" width="303" height="170"/><use href="#s-nadh"/><text class="lb" x="9" y="160">C00004</text></g>
<g id="n-C16155" transform="translate(2741,1820)"><rect class="c" width="319" height="144"/><path class="b" d="M28,52 L46,44 L66,52 L66,74 L49,84 L28,74 Z M28,74 L15,89.4 M25,72 L12,87 M49,84 L56.4,109 M66,74 L88,89.4 M66,52 L83,50.5 H161 L175,48 L187.5,43 M100.5,31V50.5 M104.5,31V50.5 M140,31V50.5 M144,31V50.5 M102.5,50.5 L107.6,70 M142,50.5 L147.6,70 M187.5,43 L212,33 L231,41 L226,62 L201,62 Z M201,62 L182.6,76 M226,62 L237,76 M231,41 L244,44 M244,44 L252,26 L272,18 L288,28 L282,43 L262,54 Z M255,28 L270,22 M288,28 L301,17 M262,54 L256,69"/><text class="a" x="46" y="44">O</text><text class="a" x="15" y="89.4">O</text><text class="a" x="57" y="109">OH</text><text class="a" x="89" y="89.4">OH</text><text class="a" x="83" y="50.5">O</text><text class="a" x="102.5" y="50.5">P</text><text class="a" x="122" y="50.5">O</text><text class="a" x="142" y="50.5">P</text><text class="a" x="161" y="50.5">O</text><text class="a" x="102.5" y="31">O</text><text class="a" x="142" y="31">O</text><text class="a" x="108" y="70">OH</text><text class="a" x="148" y="70">OH</text><text class="a" x="212" y="33">O</text><text class="a" x="182.6" y="76">HO</text><text class="a" x="238" y="76">OH</text><text class="a" x="244" y="44">N</text><text class="a" x="302" y="17">O</text><text class="a" x="285" y="43">NH</text><text class="a" x="256" y="69">O</text><text class="lb" x="9" y="134">C16155</text></g>
<g id="n-C00008-b" transform="translate(1341,1838)"><rect class="c" width="274" height="107"/><use href="#s-adp"/><text class="lb" x="10" y="96">C00008</text></g>
<g id="n-C00009-b" transform="translate(1640,1848)"><rect class="c" width="85" height="88"/><use href="#s-pi"/><text class="lb" x="9" y="78">C00009</text></g>
<g id="n-C00158" transform="translate(1247,2122)"><rect class="c" width="136" height="123"/><path class="b" d="M68,45 L88,28 L71,14 M88,28 L106,32 M89,32 L106,36 M68,45 L70,32 M68,45 L48,58 L42,42 L42,30 M46,42 V30 M42,42 L18.7,59.6 M68,45 L80,65 L92,80 L77,88.8 M94,84 L79,92 M92,80 L116,88.8"/><text class="a" x="71" y="14">HO</text><text class="a" x="42" y="30">O</text><text class="a" x="70" y="32">HO</text><text class="a" x="106" y="32">O</text><text class="a" x="18.7" y="59.6">HO</text><text class="a" x="77" y="88.8">O</text><text class="a" x="117" y="88.8">OH</text><text class="lb" x="9" y="112">C00158</text></g>
<g id="n-C00002-c" transform="translate(1408,2127)"><rect class="c" width="327" height="113"/><use href="#s-atp"/><text class="lb" x="9" y="101">C00002</text></g>
<g id="n-C00001-f" transform="translate(1265,2419)"><rect class="c" width="72" height="64"/><use href="#s-h2o"/><text class="lb" x="10" y="53">C00001</text></g>
<g id="n-C00001-g" transform="translate(815,2418)"><rect class="c" width="72" height="65"/><use href="#s-h2o"/><text class="lb" x="10" y="53">C00001</text></g>
<g id="n-C00417" transform="translate(911,2390)"><rect class="c" width="139" height="120"/><path class="b" d="M43,32 L50,48 H72 M52,52 H70 M72,48 L85,32 L100,32 L112,15.6 M102,35 L114,19 M100,32 L119,48 M50,48 L40,64 L20,64 M40,64 L50,83.6 M37,66 L47,86 M72,48 L82,64 L103,64 M82,67 L103,67 M82,64 L73,83.6"/><text class="a" x="43" y="32">H</text><text class="a" x="112" y="15.6">O</text><text class="a" x="120" y="48">OH</text><text class="a" x="20" y="64">HO</text><text class="a" x="50" y="83.6">O</text><text class="a" x="73" y="83.6">HO</text><text class="a" x="103" y="64">O</text><text class="lb" x="9" y="107">C00417</text></g>
<g id="n-C00311" transform="translate(881,2655)"><rect class="c" width="119" height="115"/><path class="b" d="M55,45 L55,28 L45,13 M58,26 L48,11 M55,28 L82,13 M55,45 L75,55 L101,42 M75,55 L80,72 L60.6,80 M80,72 L96,80 M81,75 L97,83 M55,45 L40,55 L28,45 L32,22 M28,45 L12,52 M29,48 L13,55"/><text class="a" x="32" y="22">OH</text><text class="a" x="45" y="13">O</text><text class="a" x="83" y="13">OH</text><text class="a" x="12" y="52">O</text><text class="a" x="101" y="42">OH</text><text class="a" x="60.6" y="80">HO</text><text class="a" x="96" y="80">O</text><text class="lb" x="8" y="104">C00311</text></g>
<g id="n-C00014" transform="translate(420,2928)"><rect class="c" width="72" height="77"/><path class="b" d="M36,14 V28.5 L19,43 M36,28.5 L52.6,43"/><text class="a" x="36" y="14">H</text><text class="a" x="19" y="43">H</text><text class="a" x="36" y="28.5">N</text><text class="a" x="52.6" y="43">H</text><text class="lb" x="14" y="66">C00014</text></g>
<g id="n-C00027" transform="translate(517,2943)"><rect class="c" width="71" height="48"/><text class="a" x="35" y="14.3">HO-OH</text><text class="lb" x="10" y="37">C00027</text></g>
<g id="n-C00048" transform="translate(672,2924)"><rect class="c" width="71" height="85"/><path class="b" d="M14.6,13 L30,24 L51.5,13 M16,17 L31,28 M30,24 L33,40 L48,52 M35,37 L50,49"/><text class="a" x="14.6" y="13">O</text><text class="a" x="52" y="13">OH</text><text class="a" x="48" y="52">O</text><text class="lb" x="9" y="74">C00048</text></g>
<g id="n-C00001-h" transform="translate(767,2935)"><rect class="c" width="72" height="63"/><use href="#s-h2o"/><text class="lb" x="10" y="53">C00001</text></g>
<g id="n-C00042" transform="translate(915,2917)"><rect class="c" width="135" height="98"/><path class="b" d="M18,44.7 L40,34 L58,44 L76,34 L94,44 L115,34 M38,34V15.6 M42,34V15.6 M92,44 L88,65 M96,44 L92,65"/><text class="a" x="41" y="15.6">O</text><text class="a" x="18" y="44.7">HO</text><text class="a" x="116" y="34">OH</text><text class="a" x="90" y="65">O</text><text class="lb" x="8" y="88">C00042</text></g>
<g id="n-C00003-c" transform="translate(86,3190)"><rect class="c" width="304" height="173"/><use href="#s-nad"/><text class="lb" x="9" y="162">C00003</text></g>
<g id="n-C00007" transform="translate(415,3253)"><rect class="c" width="71" height="48"/><text class="a" x="29" y="14">O=O</text><text class="lb" x="14" y="37">C00007</text></g>
<g id="n-C00001-i" transform="translate(510,3245)"><rect class="c" width="73" height="63"/><use href="#s-h2o"/><text class="lb" x="10" y="53">C00001</text></g>
<g id="n-C00037" transform="translate(607,3227)"><rect class="c" width="90" height="100"/><path class="b" d="M18,44 L40.7,34 L55,44 L65.5,65 M38.7,15V34 M42.7,15V34"/><text class="a" x="40.7" y="15">O</text><text class="a" x="18" y="44">HO</text><text class="a" x="68" y="65">NH<tspan class="s" dy="4">2</tspan></text><text class="lb" x="9" y="91">C00037</text></g>
<g id="n-C00149" transform="translate(721,3227)"><rect class="c" width="136" height="100"/><path class="b" d="M19,34 L41,45 L63,34 L78,45 L93,34 L115.7,44 M63,34 V15 M91,34V15 M95,34V15 M39,45 V66 M43,45V66"/><text class="a" x="63" y="15">OH</text><text class="a" x="93" y="15">O</text><text class="a" x="19" y="34">HO</text><text class="a" x="116" y="44">OH</text><text class="a" x="41" y="66.6">O</text><text class="lb" x="9" y="91">C00149</text></g>
<g id="n-C00011-b" transform="translate(983,3249)"><rect class="c" width="71" height="56"/><use href="#s-co2"/><text class="lb" x="11" y="45">C00011</text></g>
<g id="n-C00010" transform="translate(1078,3160)"><rect class="c" width="264" height="232"/><path class="b" d="M102,30 L80,41 L80,60 L95,68 L112,58 L112,40 Z M112,40 L128,31 L142,45 L136,60 L112,58 M102,30 V17 M84,45 V57 M130,35 L138,44 M95,90 L115,80 L135,88 L130,105 L105,105 Z M135,88 L136,60 M130,105 L145,120 M105,105 L102.8,120 H60 M81.6,120 L85,103 M79.6,120V138 M83.6,120V138 M95,90 L75,90 L64,99 H32 M32,99 L39,80 M32,97 H15.7 M32,101 H15.7 M32,99 V175 M32,173 H15.7 M32,177 H15.7 M32,175 L39,196 M32,175 L50,180 L68,178 L90,175 L78,160 M90,175 L78,190 M90,175 L106,165 L106,151 M106,165 L118,175 L115.5,191 M121,176 L118.5,192 M118,175 L129.7,167 L150,160 L165,175 L177,170 L177,191 M180,170 L180,191 M177,170 L193,167 L210,160 L228,175 L244,174.8 M129.7,167 V156 M193,167 V155"/><text class="a" x="104" y="17">NH<tspan class="s" dy="4">2</tspan></text><text class="a" x="80" y="41">N</text><text class="a" x="95" y="68">N</text><text class="a" x="128" y="31">N</text><text class="a" x="136" y="60">N</text><text class="a" x="115" y="80">O</text><text class="a" x="146" y="120">OH</text><text class="a" x="102.8" y="120">O</text><text class="a" x="81.6" y="120">P</text><text class="a" x="58" y="120">HO</text><text class="a" x="85" y="103">OH</text><text class="a" x="81.6" y="138">O</text><text class="a" x="64" y="99">O</text><text class="a" x="32" y="99">P</text><text class="a" x="15.7" y="99">O</text><text class="a" x="39" y="80">OH</text><text class="a" x="32" y="138">O</text><text class="a" x="32" y="175">P</text><text class="a" x="15.7" y="175">O</text><text class="a" x="39" y="196">OH</text><text class="a" x="50" y="180">O</text><text class="a" x="72" y="158">H<tspan class="s" dy="4">3</tspan><tspan dy="-4">C</tspan></text><text class="a" x="72" y="191">H<tspan class="s" dy="4">3</tspan><tspan dy="-4">C</tspan></text><text class="a" x="106" y="151">OH</text><text class="a" x="115.5" y="191">O</text><text class="a" x="129.7" y="155">H</text><text class="a" x="129.7" y="167">N</text><text class="a" x="177" y="191">O</text><text class="a" x="193" y="154">H</text><text class="a" x="193" y="167">N</text><text class="a" x="248" y="174.8">SH</text><text class="lb" x="8" y="220">C00010</text></g>
<g id="n-C00006-b" transform="translate(1366,3172)"><rect class="c" width="313" height="210"/><use href="#s-nadp"/><text class="lb" x="9" y="200">C00006</text></g>
<g id="n-C00003-d" transform="translate(1702,3190)"><rect class="c" width="304" height="173"/><use href="#s-nad"/><text class="lb" x="9" y="162">C00003</text></g>
<g id="n-C00001-j" transform="translate(2031,3245)"><rect class="c" width="72" height="63"/><use href="#s-h2o"/><text class="lb" x="10" y="53">C00001</text></g>
<g id="n-C02843" transform="translate(2127,3236)"><rect class="c" width="151" height="82"/><path class="b" d="M30,38 L50,46 L64,38 L86,46 L98,42 M42,26 h-4 v28 h4 M62,26 h4 v28 h-4 M86,46 L82,22 M89,45 L85,21"/><text class="a" x="20" y="35">H<tspan class="s" dy="4">3</tspan><tspan dy="-4">C</tspan></text><text class="a" x="77" y="50" font-weight="bold" font-size="12px">2n</text><text class="a" x="82" y="15.5">O</text><text class="a" x="118" y="45">S−CoA</text><text class="lb" x="8" y="71">C02843</text></g>
<g id="n-C00683" transform="translate(79,3621)"><rect class="c" width="146" height="102"/><path class="b" d="M18.7,44 L40,34 L58,44 L75,34 L92,44 M38,34V13.6 M42,34V13.6 M73,34V13.6 M77,34V13.6 M58,44 L66,64"/><text class="a" x="40" y="13.6">O</text><text class="a" x="75" y="13.6">O</text><text class="a" x="18.7" y="44">HO</text><text class="a" x="111" y="44">S−CoA</text><text class="a" x="68" y="64">CH<tspan class="s" dy="4">3</tspan></text><text class="lb" x="8" y="90">C00683</text></g>
<g id="n-C00022" transform="translate(248,3624)"><rect class="c" width="88" height="95"/><path class="b" d="M17.5,43 L41,33 L57,43 L74,33.7 M39,33 V13 M43,33V13 M59,46 L76,37 M57,43 L61,61.5"/><text class="a" x="41" y="13">O</text><text class="a" x="17.5" y="43">H<tspan class="s" dy="4">3</tspan><tspan dy="-4">C</tspan></text><text class="a" x="74" y="33.7">O</text><text class="a" x="61" y="61.5">OH</text><text class="lb" x="9" y="85">C00022</text></g>
<g id="n-C00011-c" transform="translate(361,3644)"><rect class="c" width="72" height="55"/><use href="#s-co2"/><text class="lb" x="11" y="44">C00011</text></g>
<g id="n-C00080-d" transform="translate(457,3647)"><rect class="c" width="71" height="48"/><use href="#s-hp"/><text class="lb" x="14" y="37">C00080</text></g>
<g id="n-C00004-c" transform="translate(553,3587)"><rect class="c" width="304" height="169"/><use href="#s-nadh"/><text class="lb" x="9" y="160">C00004</text></g>
<g id="n-C00083" transform="translate(963,3631)"><rect class="c" width="146" height="81"/><path class="b" d="M19.6,45 L41,34 L58,44 L75.5,34 L92,45 M39,34V15 M43,34V15 M73.5,34V15 M77.5,34V15"/><text class="a" x="41" y="15">O</text><text class="a" x="75.5" y="15">O</text><text class="a" x="19.6" y="45">HO</text><text class="a" x="112" y="45">S−CoA</text><text class="lb" x="8" y="68">C00083</text></g>
<g id="n-C00080-e" transform="translate(1162,3647)"><rect class="c" width="73" height="48"/><use href="#s-hp"/><text class="lb" x="14" y="37">C00080</text></g>
<g id="n-C00005-b" transform="translate(1258,3536)"><rect class="c" width="411" height="270"/><use href="#s-nadph"/><text class="lb" x="9" y="258">C00005</text></g>
<g id="n-C00004-d" transform="translate(1692,3586)"><rect class="c" width="304" height="170"/><use href="#s-nadh"/><text class="lb" x="9" y="160">C00004</text></g>
<g id="n-C00100" transform="translate(224,3967)"><rect class="c" width="136" height="79"/><path class="b" d="M23.8,35.6 L44,44 L65,34 L82,44 M63,34V14 M67,34V14"/><text class="a" x="23.8" y="35.6">H<tspan class="s" dy="4">3</tspan><tspan dy="-4">C</tspan></text><text class="a" x="65" y="14">O</text><text class="a" x="102" y="44">S−CoA</text><text class="lb" x="9" y="68">C00100</text></g>
<g id="n-C00288" transform="translate(2352,3631)"><rect class="c" width="72" height="81"/><path class="b" d="M16.8,29.8 L36,35 L50.8,13.6 M17,34 L35,39 M36,35 L48.7,47"/><text class="a" x="51" y="13.6">OH</text><text class="a" x="16.8" y="29.8">O</text><text class="a" x="48.7" y="47">O<tspan class="s" dy="-5">-</tspan></text><text class="lb" x="10" y="71">C00288</text></g>
<g id="n-C00002-d" transform="translate(2448,3616)"><rect class="c" width="328" height="111"/><use href="#s-atp"/><text class="lb" x="9" y="100">C00002</text></g>
<g id="n-C00008-c" transform="translate(2801,3618)"><rect class="c" width="274" height="106"/><use href="#s-adp"/><text class="lb" x="10" y="96">C00008</text></g>
<g id="n-C00011-d" transform="translate(3099,3644)"><rect class="c" width="72" height="55"/><use href="#s-co2"/><text class="lb" x="11" y="44">C00011</text></g>
<g id="n-C00074" transform="translate(3196,3616)"><rect class="c" width="130" height="111"/><path class="b" d="M31.5,15.5 L45,35 L70.5,15.5 M34.5,13 L47.5,31 M45,35 L25,55.7 M48,38 L28,58.7 M45,35 L65.5,55.7 H110 M82.6,35V55.7 M86.6,35V55.7 M84.6,55.7 L79.7,77"/><text class="a" x="31.5" y="15.5">O</text><text class="a" x="71" y="15.5">OH</text><text class="a" x="84.6" y="35">O</text><text class="a" x="19.4" y="55.7">H<tspan class="s" dy="4">2</tspan><tspan dy="-4">C</tspan></text><text class="a" x="65.5" y="55.7">O</text><text class="a" x="84.6" y="55.7">P</text><text class="a" x="111" y="55.7">OH</text><text class="a" x="79.7" y="77">HO</text><text class="lb" x="8" y="100">C00074</text></g>
<g id="n-C00036" transform="translate(2204,3956)"><rect class="c" width="122" height="99"/><path class="b" d="M14,47 L33,50 L48,40 L66,50 L84,42 L104.6,47 M84,45 L104,50 M33,50 L38,65 M30,51 L35,66 M48,40 V14 M52,40V14 M84,42 L73,65"/><text class="a" x="14" y="47">HO</text><text class="a" x="50" y="14">O</text><text class="a" x="104.6" y="47">O</text><text class="a" x="38" y="65">O</text><text class="a" x="73" y="65">HO</text><text class="lb" x="8" y="89">C00036</text></g>
<g id="n-C00009-c" transform="translate(2350,3962)"><rect class="c" width="85" height="88"/><use href="#s-pi"/><text class="lb" x="9" y="78">C00009</text></g>
<g id="n-C00008-d" transform="translate(2460,3952)"><rect class="c" width="274" height="107"/><use href="#s-adp"/><text class="lb" x="10" y="96">C00008</text></g>
<g id="n-C00002-e" transform="translate(2872,3950)"><rect class="c" width="328" height="112"/><use href="#s-atp"/><text class="lb" x="9" y="101">C00002</text></g>
</g>

<g id="connectors" class="e">
<path class="ar" d="M1035,171 L1035,220"/>
<path class="ar" d="M1341,117 C1290,140 1160,190 1076,225"/>
<path class="ar" d="M995,247 C860,258 700,275 630,300 C605,310 585,325 570,338"/>
<path class="ar" d="M1035,268 L1035,347"/>
<path class="ar" d="M771.6,526 L771.6,575"/>
<path class="ar" d="M975,494 C955,520 930,540 900,552 C870,565 840,575 811,586"/>
<path class="ar" d="M731,600 C600,605 400,620 250,645 C210,660 160,700 126,744"/>
<path class="ar" d="M740,623 L681,670"/>
<path class="ar" d="M771.6,623 L771.6,781"/>
<path class="ar" d="M1033.6,494 L1033.6,575"/>
<path class="ar" d="M1032,623 L1032,758"/>
<path class="ar" d="M1421.5,143 L1518,575"/>
<path class="ar" d="M1120,452 C1250,500 1400,550 1485,581"/>
<path class="ar" d="M1530,623 L1549,747"/>
<path class="ar" d="M1565,604 C1640,620 1700,650 1725,690 C1740,715 1750,745 1757.7,773"/>
<path class="ar" d="M1320,859 C1350,895 1400,940 1440,960 C1475,977 1500,988 1521,995"/>
<path class="ar" d="M1562,863 L1560,987"/>
<path class="ar" d="M1560,1035 L1560,1099"/>
<path class="ar" d="M1601,1025 C1680,1050 1750,1080 1779,1113"/>
<path class="ar" d="M115,866 L157,987"/>
<path class="ar" d="M231,837 L178,987"/>
<path class="ar" d="M167,1035 L167,1105"/>
<path class="ar" d="M167,1235 L167,1305"/>
<path class="ar" d="M159,1353 L145,1403"/>
<path class="ar" d="M177,1353 L226,1500"/>
<path class="ar" d="M95.6,1660 L95.6,1711"/>
<path class="ar" d="M103,1759 L120,1825"/>
<path class="ar" d="M86,1759 C70,1850 48,1950 48,2100 L48,3250 C48,3380 110,3430 170,3475 C220,3515 255,3560 276,3624"/>
<path class="ar" d="M875.6,848 L877.8,987"/>
<path class="ar" d="M995,851 L897.6,987"/>
<path class="ar" d="M858,1035 L817.6,1094"/>
<path class="ar" d="M876,1035 L876,1139"/>
<path class="ar" d="M895.5,1035 L961,1120"/>
<path class="ar" d="M1036,1220 L1094,1305"/>
<path class="ar" d="M1184,1223 L1128,1305"/>
<path class="ar" d="M1097,1353 L1029,1475"/>
<path class="ar" d="M1135,1353 C1155,1380 1175,1410 1190,1440 C1200,1462 1208,1478 1215,1490"/>
<path class="ar" d="M715,1588 C760,1620 830,1670 870,1690 C890,1700 900,1707 907,1713"/>
<path class="ar" d="M1220,1572 C1210,1620 1180,1660 1110,1700 C1060,1720 1020,1727 987,1729"/>
<path class="ar" d="M1210.5,3160 L1210,2036 C1212,1980 1226,1920 1218,1870 C1210,1820 1180,1790 1120,1768 C1075,1755 1025,1746 987,1741"/>
<path class="ar" d="M907,1746 C860,1760 800,1785 775,1800 C755,1815 735,1835 726,1851"/>
<path class="ar" d="M927,1759 L876,1847"/>
<path class="ar" d="M963,1759 L1012,1835"/>
<path class="ar" d="M1705,1242 C1760,1265 1830,1285 1900,1300 C1980,1312 2030,1318 2065,1325"/>
<path class="ar" d="M2104.6,1256 L2104.6,1305"/>
<path class="ar" d="M2304,1202 C2295,1230 2280,1255 2250,1275 C2210,1295 2170,1310 2145,1318"/>
<path class="ar" d="M2080,1353 L1982,1446"/>
<path class="ar" d="M2104.6,1353 L2104.6,1507"/>
<path class="ar" d="M2129,1353 L2218,1446"/>
<path class="ar" d="M2369,1618 L2439.6,1711"/>
<path class="ar" d="M2547,1618 L2478.6,1711"/>
<path class="ar" d="M2418,1746 C2370,1760 2320,1785 2290,1815 C2278,1830 2270,1848 2266,1864"/>
<path class="ar" d="M2436,1759 L2365,1868"/>
<path class="ar" d="M2475,1759 L2507,1807"/>
<path class="ar" d="M2498,1742.5 C2570,1760 2650,1778 2700,1795 C2725,1805 2745,1812 2758.5,1820"/>
<path class="ar" d="M1510,1945 L1556,2024"/>
<path class="ar" d="M1654,1936 L1595,2024"/>
<path class="ar" marker-start="url(#as)" d="M733,1935 C748,1962 770,1978 820,1988 C950,2005 1150,2015 1322,2036 C1400,2045 1480,2048 1532,2048"/>
<path class="ar" d="M1532,2062 C1480,2080 1420,2105 1385,2127"/>
<path class="ar" d="M1571.6,2072 L1571.6,2127"/>
<path class="ar" d="M2277,3956 C2300,3800 2315,3600 2315,3050 L2315,2350 C2315,2280 2280,2235 2220,2211 C2100,2160 1900,2110 1747,2075 C1700,2065 1650,2058 1612,2055"/>
<path class="ar" d="M1612,2060 C1700,2080 1760,2120 1778,2180 C1786,2220 1773,2280 1773,2320 L1773,2963 C1773,3010 1760,3040 1745,3055 C1730,3075 1700,3085 1600,3100 C1450,3125 1380,3140 1344,3165"/>
<path class="ar" d="M1308,2245 L1304,2295"/>
<path class="ar" d="M1300.5,2343 L1300.5,2419"/>
<path class="ar" d="M1261,2335 C1200,2360 1110,2395 1050,2422"/>
<path class="ar" d="M875,2483 L922,2559"/>
<path class="ar" d="M960.6,2510 L948.6,2559"/>
<path class="ar" d="M940,2607 L940,2655"/>
<path class="ar" d="M940,2770 L940,2820"/>
<path class="ar" d="M901,2856 C850,2870 800,2890 770,2905 C760,2912 752,2918 743,2924"/>
<path class="ar" d="M948.6,2868 L962.7,2917"/>
<path class="ar" d="M488,3005 L527,3065"/>
<path class="ar" d="M551,2991 L551,3065"/>
<path class="ar" d="M672,2995 C650,3010 620,3030 600,3048 L584,3065"/>
<path class="ar" d="M736,3009 L768,3065"/>
<path class="ar" d="M798.5,2998 L791.5,3065"/>
<path class="ar" d="M682,1933 C665,1990 640,2080 634,2155 L634,2878 C634,2950 650,3010 697,3052 C715,3065 732,3072 749,3078"/>
<path class="ar" d="M959,3855 L867,3052 C840,2850 800,2650 790,2560 C782,2480 781,2300 779,2166 C776,2080 745,1990 720,1933"/>
<path class="ar" d="M723,1933 C745,1960 780,1990 830,2015 C900,2040 980,2058 1030,2080 C1075,2110 1087,2170 1087,2230 L1087,2878 C1087,2950 1060,3020 1040,3060 C1000,3120 941,3200 941,3290 C941,3360 960,3395 1000,3410 C1050,3425 1200,3440 1424,3461"/>
<path class="ar" d="M1023,3305 C1035,3350 1050,3385 1080,3400 C1150,3420 1300,3440 1424,3457"/>
<path class="ar" d="M1342,3385 L1424,3441"/>
<path class="ar" d="M1488.7,3382 L1473,3440"/>
<path class="ar" d="M1740,3363 C1700,3390 1620,3420 1504,3452"/>
<path class="ar" d="M2062,3308 C2055,3350 2040,3380 2010,3390 C1900,3415 1700,3440 1504,3459"/>
<path class="ar" d="M2179,3318 C2160,3350 2130,3380 2080,3395 C1950,3430 1750,3450 1504,3464"/>
<path class="ar" d="M1424,3470 C1340,3480 1240,3500 1170,3530 C1130,3550 1100,3580 1062,3631"/>
<path class="ar" d="M1424,3474 C1350,3485 1280,3505 1250,3530 C1220,3560 1205,3610 1202,3647"/>
<path class="ar" d="M1462.5,3488 L1462.5,3536"/>
<path class="ar" d="M1504,3476 C1600,3495 1680,3520 1720,3550 C1735,3562 1745,3575 1750.6,3586"/>
<path class="ar" d="M789,3113 L789,3227"/>
<path class="ar" d="M829,3094 C900,3103 960,3112 1000,3125 C1040,3138 1060,3150 1078,3162"/>
<path class="ar" d="M529.5,3113 C510,3140 490,3170 480,3200 C470,3225 463,3240 460,3253"/>
<path class="ar" d="M548.6,3113 L546.5,3245"/>
<path class="ar" d="M566,3113 L626.5,3227"/>
<path class="ar" d="M335,3363 L417.7,3440"/>
<path class="ar" d="M763,3327 C740,3370 700,3400 640,3420 C580,3440 530,3455 485,3461"/>
<path class="ar" d="M405,3488 C370,3510 345,3540 330,3570 C320,3590 313,3608 308,3624"/>
<path class="ar" d="M439,3488 L403.5,3644"/>
<path class="ar" d="M451.6,3488 L486,3647"/>
<path class="ar" d="M478,3488 L601.7,3587"/>
<path class="ar" d="M182.6,3723 L272.5,3855"/>
<path class="ar" d="M292,3719 L292,3855"/>
<path class="ar" d="M292,3903 L292,3967"/>
<path class="ar" d="M302,3719 C310,3768 325,3800 347,3808 C450,3825 600,3838 700,3845 C800,3855 870,3868 925,3875"/>
<path class="ar" d="M300,3719 C308,3765 325,3798 350,3806 C500,3830 900,3840 1110,3846 C1600,3858 2000,3868 2353,3877"/>
<path class="ar" d="M1019,3712 L973,3855"/>
<path class="ar" d="M1005,3883 C1400,3915 1800,3960 2204,4000"/>
<path class="ar" d="M333,3882 C900,3917 1600,3960 2204,4001"/>
<path class="ar" d="M2390,3712 L2392,3855"/>
<path class="ar" d="M2551.6,3727 L2422,3855"/>
<path class="ar" d="M2366.7,3903 L2315.6,3956"/>
<path class="ar" d="M2392,3903 L2392,3962"/>
<path class="ar" d="M2432.5,3904 L2510.5,3952"/>
<path class="ar" d="M2962.5,3724 C2980,3770 3005,3810 3023,3855"/>
<path class="ar" d="M3125.5,3699 C3115,3760 3085,3815 3059.6,3855"/>
<path class="ar" d="M3238,3727 C3225,3760 3205,3790 3170,3815 C3130,3840 3100,3852 3077,3864"/>
<path class="ar" d="M2997,3880 C2800,3890 2600,3900 2500,3915 C2400,3930 2360,3942 2326,3954"/>
<path class="ar" d="M3036,3903 L3036,3950"/>
</g>
</svg>
